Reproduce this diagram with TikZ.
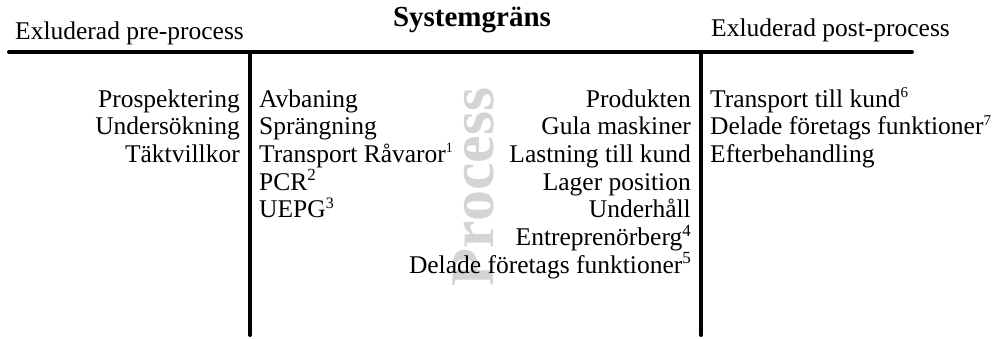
\documentclass[tikz,border=0pt]{standalone}
\usepackage{fontspec}
\setmainfont{Liberation Serif}
% raised footnote numbers: size, then the number
\newcommand\fnmark[2]{\raisebox{9.5pt}{\fontsize{#1}{#1}\selectfont #2}}
\begin{document}
\begin{tikzpicture}[x=1pt,y=-1pt,
  txt/.style={inner sep=0pt, font=\fontsize{25.5}{28}\selectfont},
  lft/.style={txt, anchor=base west},
  rgt/.style={txt, anchor=base east},
  boundary/.style={line width=4pt, line cap=round},
  mark text/.style={rotate=90, inner sep=0pt, text=black!17,
    font=\fontsize{62}{64}\selectfont\bfseries}]
\useasboundingbox (0,0) rectangle (994,338);

% faded label behind the process column
\node[mark text] (wm) at (474,187) {Process};

% header
\node[lft] (pre) at (15,39) {Exluderad pre-process};
\node[txt, anchor=base, font=\fontsize{29}{30}\selectfont\bfseries] (title) at (472,26) {Systemgräns};
\node[lft] (post) at (711,36) {Exluderad post-process};

% system boundary lines
\coordinate (hl) at (9,52);
\coordinate (hr) at (912,52);
\coordinate (v1t) at (250,52);
\coordinate (v1b) at (250,335);
\coordinate (v2t) at (701,52);
\coordinate (v2b) at (701,335);
\draw[boundary] (hl) -- (hr);
\draw[boundary] (v1t) -- (v1b);
\draw[boundary] (v2t) -- (v2b);

% pre-process column
\node[rgt] (a1) at (240,107)   {Prospektering};
\node[rgt] (a2) at (240,134.7) {Undersökning};
\node[rgt] (a3) at (240,162.4) {Täktvillkor};

% process column, left part
\node[lft] (b1) at (259,107)   {Avbaning};
\node[lft] (b2) at (259,134.7) {Sprängning};
\node[lft] (b3) at (259,162.4) {Transport Råvaror\fnmark{14}{1}};
\node[lft] (b4) at (259,190.1) {PCR\fnmark{17}{2}};
\node[lft] (b5) at (259,217.8) {UEPG\fnmark{16}{3}};

% process column, right part
\node[rgt] (c1) at (691,107)   {Produkten};
\node[rgt] (c2) at (691,134.7) {Gula maskiner};
\node[rgt] (c3) at (691,162.4) {Lastning till kund};
\node[rgt] (c4) at (691,190.1) {Lager position};
\node[rgt] (c5) at (691,217.8) {Underhåll};
\node[rgt] (c6) at (691,245.5) {Entreprenörberg\fnmark{17}{4}};
\node[rgt] (c7) at (691,273.2) {Delade företags funktioner\fnmark{17}{5}};

% post-process column
\node[lft] (d1) at (710,107)   {Transport till kund\fnmark{15}{6}};
\node[lft] (d2) at (710,134.7) {Delade företags funktioner\fnmark{15}{7}};
\node[lft] (d3) at (710,162.4) {Efterbehandling};
\end{tikzpicture}
\end{document}
